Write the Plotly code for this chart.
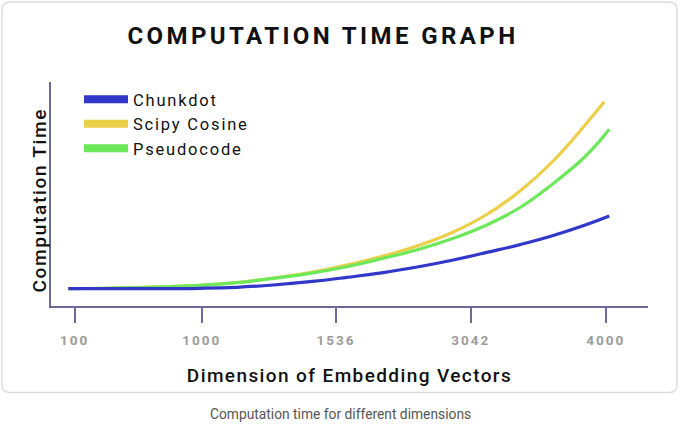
import plotly.graph_objects as go

# ---------------- data ----------------
tick_labels = ["100", "1000", "1536", "3042", "4000"]
tick_pos = [0.0, 0.957, 1.968, 2.983, 4.0]

x_common = [-0.048, 0.462, 0.944, 1.220, 1.496, 1.772, 2.049, 2.325,
            2.601, 2.852, 3.104, 3.355, 3.605, 3.857]

chunkdot_x = x_common + [4.027]
chunkdot_y = [8.65, 8.65, 8.85, 9.35, 10.5, 12.15, 14.3, 16.7,
              19.75, 23.0, 26.8, 30.7, 35.25, 40.75, 45.0]

pseudo_x = x_common + [4.027]
pseudo_y = [8.65, 9.25, 10.35, 11.65, 13.85, 16.35, 19.65, 23.85,
            28.5, 33.85, 40.5, 49.25, 61.25, 75.5, 88.35]

scipy_x = x_common + [3.989]
scipy_y = [8.65, 9.25, 10.35, 11.75, 14.0, 16.75, 20.5, 25.0,
           30.5, 37.0, 45.75, 57.5, 72.5, 91.5, 102.15]

series_names = ["Chunkdot", "Scipy Cosine", "Pseudocode"]
colors = {"Chunkdot": "#3137c9", "Scipy Cosine": "#ebcf48", "Pseudocode": "#6de85b"}

# ---------------- layout geometry ----------------
W, H = 680, 425
L, R, T, B = 51, 32, 82, 119
PW, PH = W - L - R, H - T - B
AXIS_COLOR = "#6b6b9a"

def px2paper_x(px):
    return (px - L) / PW

def px2paper_y(py):
    return (H - B - py) / PH

def ls(text, sp):
    return f'<span style="letter-spacing:{sp}px">{text}</span>'

fig = go.Figure()

# curves (draw order: yellow, green, blue on top)
for name, xs, ys in [("Scipy Cosine", scipy_x, scipy_y),
                     ("Pseudocode", pseudo_x, pseudo_y),
                     ("Chunkdot", chunkdot_x, chunkdot_y)]:
    fig.add_trace(go.Scatter(
        x=xs, y=ys, mode="lines", name=name, showlegend=False,
        line=dict(color=colors[name], width=3.2, shape="spline", smoothing=1.3),
        hoverinfo="skip"))

# legend entries (thick swatches)
for name in series_names:
    fig.add_trace(go.Scatter(
        x=[None], y=[None], mode="lines", name=ls(name, 1.8),
        line=dict(color=colors[name], width=8), showlegend=True))

# card background with rounded corners
cx0, cx1, cy0, cy1, r = 2, 677, 2, 392.5, 8
def P(px, py):
    return f"{px2paper_x(px):.5f},{px2paper_y(py):.5f}"
card_path = (
    f"M {P(cx0 + r, cy0)} L {P(cx1 - r, cy0)} Q {P(cx1, cy0)} {P(cx1, cy0 + r)} "
    f"L {P(cx1, cy1 - r)} Q {P(cx1, cy1)} {P(cx1 - r, cy1)} "
    f"L {P(cx0 + r, cy1)} Q {P(cx0, cy1)} {P(cx0, cy1 - r)} "
    f"L {P(cx0, cy0 + r)} Q {P(cx0, cy0)} {P(cx0 + r, cy0)} Z"
)
fig.add_shape(type="path", path=card_path, xref="paper", yref="paper",
              line=dict(color="#dcdcdc", width=1.5), fillcolor="white", layer="below")

# y-axis title
fig.add_annotation(text=ls("Computation Time", 1.7), textangle=-90,
                   xref="paper", yref="paper", x=px2paper_x(38.5), y=px2paper_y(200),
                   xanchor="center", yanchor="middle", showarrow=False,
                   font=dict(family="Roboto", size=19, color="#111111", weight=500))

# caption below card
fig.add_annotation(text="Computation time for different dimensions",
                   xref="paper", yref="paper", x=px2paper_x(340), y=px2paper_y(414),
                   xanchor="center", yanchor="middle", showarrow=False,
                   font=dict(family="Roboto", size=13.8, color="#555555"))

fig.update_layout(
    width=W, height=H,
    margin=dict(l=L, r=R, t=T, b=B, pad=0),
    paper_bgcolor="white", plot_bgcolor="white",
    title=dict(text=ls("<b>COMPUTATION TIME GRAPH</b>", 3.4),
               x=323 / W, xanchor="center", xref="container",
               y=1 - 36 / H, yanchor="middle", yref="container",
               font=dict(family="Roboto", size=24, color="#111111")),
    legend=dict(x=px2paper_x(79), y=px2paper_y(82), xanchor="left", yanchor="top",
                bgcolor="rgba(0,0,0,0)", itemwidth=44, tracegroupgap=0,
                font=dict(family="Roboto", size=16.5, color="#111111")),
    xaxis=dict(range=[-0.1785, 4.3187], showgrid=False, zeroline=False,
               showline=True, linecolor=AXIS_COLOR, linewidth=1.5,
               tickmode="array", tickvals=tick_pos,
               ticktext=[ls(f"<b>{t}</b>", 2) for t in tick_labels],
               ticks="outside", ticklen=15, tickwidth=1.5, tickcolor=AXIS_COLOR,
               ticklabelstandoff=6,
               tickfont=dict(family="Roboto", size=13.5, color="#9c9c9c"),
               title=dict(text=ls("Dimension of Embedding Vectors", 1.4), standoff=22,
                          font=dict(family="Roboto", size=19, color="#111111", weight=500))),
    yaxis=dict(range=[0, (H - B - T) / 2], showgrid=False, zeroline=False,
               showline=True, linecolor=AXIS_COLOR, linewidth=1.5,
               showticklabels=False, ticks=""),
)

fig.write_html("out.html")
